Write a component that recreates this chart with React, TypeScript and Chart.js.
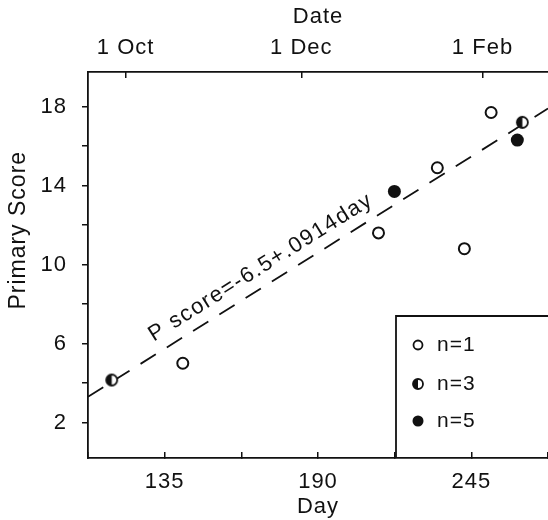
import React, { useEffect, useRef } from 'react';
import { Chart, registerables } from 'chart.js';

Chart.register(...registerables);

// ---- data ----
const openDays = [141.5, 211.7, 232.8, 242.5, 252.1];
const openScores = [5.0, 11.6, 14.9, 10.8, 17.7];
const halfDays = [116.0, 263.3];
const halfScores = [4.15, 17.2];
const filledDays = [217.4, 261.5];
const filledScores = [13.7, 16.3];
const fitDays = [107.5, 272.5];
const fitScores = [3.3, 17.9];

const dayTicks = [107.5, 135, 162.5, 190, 217.5, 245, 272.5];
const dayLabels = [135, 190, 245];
const dateTickDays = [121, 184, 249];
const dateLabels = ['1 Oct', '1 Dec', '1 Feb'];
const scoreTicks = [2, 4, 6, 8, 10, 12, 14, 16, 18];
const scoreLabels = [2, 6, 10, 14, 18];
const legendLabels = ['n=1', 'n=3', 'n=5'];
const equationText = 'P score=-6.5+.0914day';
const equationAnchor = { day: 169.5, score: 9.85 };
const yTitleText = 'Primary Score';

const INK = '#111';
const FONT = '"Liberation Sans", Arial, sans-serif';

function makeHalfPoint(r: number, lw: number): HTMLCanvasElement {
  const size = Math.ceil(2 * r + lw + 2);
  const c = document.createElement('canvas');
  c.width = size;
  c.height = size;
  const g = c.getContext('2d')!;
  const cx = size / 2;
  g.fillStyle = '#fff';
  g.beginPath();
  g.arc(cx, cx, r, 0, Math.PI * 2);
  g.fill();
  g.fillStyle = INK;
  g.beginPath();
  g.arc(cx, cx, r, Math.PI / 2, (3 * Math.PI) / 2);
  g.closePath();
  g.fill();
  g.strokeStyle = INK;
  g.lineWidth = lw;
  g.beginPath();
  g.arc(cx, cx, r, 0, Math.PI * 2);
  g.stroke();
  return c;
}

const toPts = (xs: number[], ys: number[]) => xs.map((x, i) => ({ x, y: ys[i] }));

const zeroPad = (s: any) => {
  s.paddingLeft = 0;
  s.paddingRight = 0;
  s.paddingTop = 0;
  s.paddingBottom = 0;
};

export default function App() {
  const ref = useRef<HTMLCanvasElement | null>(null);

  useEffect(() => {
    if (!ref.current) return;
    const halfImg = makeHalfPoint(5.5, 1.8);
    const halfImgSmall = makeHalfPoint(5, 1.8);

    const annotPlugin = {
      id: 'annot',
      beforeDraw(chart: any) {
        chart.ctx.letterSpacing = '1px';
      },
      afterDraw(chart: any) {
        const { ctx, chartArea } = chart;
        // y axis title, rotated
        ctx.save();
        ctx.letterSpacing = '1px';
        ctx.translate(19, chartArea.top + (chartArea.bottom - chartArea.top) * 0.41);
        ctx.rotate(-Math.PI / 2);
        ctx.font = `23px ${FONT}`;
        ctx.fillStyle = INK;
        ctx.textAlign = 'center';
        ctx.textBaseline = 'middle';
        ctx.fillText(yTitleText, 0, 0);
        ctx.restore();
      },
      afterDatasetsDraw(chart: any) {
        const { ctx, chartArea, scales } = chart;
        const x = scales.x;
        const y = scales.y;
        // equation text along the fitted line
        const x1 = x.getPixelForValue(fitDays[0]);
        const y1 = y.getPixelForValue(fitScores[0]);
        const x2 = x.getPixelForValue(fitDays[1]);
        const y2 = y.getPixelForValue(fitScores[1]);
        const angle = Math.atan2(y2 - y1, x2 - x1);
        ctx.save();
        ctx.letterSpacing = '1.5px';
        ctx.translate(x.getPixelForValue(equationAnchor.day), y.getPixelForValue(equationAnchor.score));
        ctx.rotate(angle);
        ctx.font = `22px ${FONT}`;
        ctx.fillStyle = INK;
        ctx.textAlign = 'center';
        ctx.textBaseline = 'middle';
        ctx.fillText(equationText, 0, 0);
        ctx.restore();

        // legend box
        const bx = chartArea.right - 152;
        const by = chartArea.bottom - 142;
        ctx.save();
        ctx.strokeStyle = INK;
        ctx.lineWidth = 1.8;
        ctx.beginPath();
        ctx.moveTo(bx, chartArea.bottom);
        ctx.lineTo(bx, by);
        ctx.lineTo(chartArea.right, by);
        ctx.stroke();
        const rows = [29, 68, 105];
        ctx.font = `21px ${FONT}`;
        ctx.letterSpacing = '1px';
        ctx.fillStyle = INK;
        ctx.textAlign = 'left';
        ctx.textBaseline = 'middle';
        rows.forEach((dy, i) => {
          const mx = bx + 22;
          const my = by + dy;
          if (i === 0) {
            ctx.beginPath();
            ctx.arc(mx, my, 4.5, 0, Math.PI * 2);
            ctx.fillStyle = '#fff';
            ctx.fill();
            ctx.lineWidth = 1.8;
            ctx.stroke();
          } else if (i === 1) {
            ctx.drawImage(halfImgSmall, mx - halfImgSmall.width / 2, my - halfImgSmall.height / 2);
          } else {
            ctx.beginPath();
            ctx.arc(mx, my, 5.5, 0, Math.PI * 2);
            ctx.fillStyle = INK;
            ctx.fill();
          }
          ctx.fillStyle = INK;
          ctx.fillText(legendLabels[i], bx + 41, my);
        });
        ctx.restore();
      },
    };

    const tickFont = { family: FONT, size: 22 };
    const titleFont = { family: FONT, size: 22 };

    const chart = new Chart(ref.current, {
      type: 'scatter',
      data: {
        datasets: [
          {
            label: 'n=1',
            data: toPts(openDays, openScores),
            pointStyle: 'circle',
            pointRadius: 5.5,
            pointBorderWidth: 2,
            pointBackgroundColor: '#fff',
            pointBorderColor: INK,
          },
          {
            label: 'n=3',
            data: toPts(halfDays, halfScores),
            pointStyle: halfImg as any,
            pointRadius: 5.5,
          },
          {
            label: 'n=5',
            data: toPts(filledDays, filledScores),
            pointStyle: 'circle',
            pointRadius: 6.5,
            pointBorderWidth: 0,
            pointBackgroundColor: INK,
            pointBorderColor: INK,
          },
          {
            type: 'line' as any,
            label: 'fit',
            data: toPts(fitDays, fitScores),
            showLine: true,
            borderColor: INK,
            borderWidth: 1.8,
            borderDash: [18, 13],
            pointRadius: 0,
            fill: false,
          } as any,
        ],
      },
      options: {
        responsive: false,
        animation: false,
        events: [],
        layout: { padding: 0, autoPadding: false },
        plugins: {
          legend: { display: false },
          tooltip: { enabled: false },
        },
        scales: {
          x: {
            type: 'linear',
            position: 'bottom',
            min: fitDays[0],
            max: fitDays[1],
            afterBuildTicks: (s: any) => {
              s.ticks = dayTicks.map((v) => ({ value: v }));
            },
            afterFit: (s: any) => {
              s.height = 62;
              zeroPad(s);
            },
            ticks: {
              autoSkip: false,
              maxRotation: 0,
              padding: 17,
              color: INK,
              font: tickFont,
              callback: (v: any) => (dayLabels.includes(Number(v)) ? String(v) : ''),
            },
            grid: { drawOnChartArea: false, drawTicks: true, tickLength: -6, color: INK, lineWidth: 1.5 },
            border: { display: true, color: INK, width: 1.8 },
            title: { display: true, text: 'Day', color: INK, font: titleFont, padding: { top: 0, bottom: 0 } },
          },
          xTop: {
            type: 'linear',
            position: 'top',
            min: fitDays[0],
            max: fitDays[1],
            afterBuildTicks: (s: any) => {
              s.ticks = dateTickDays.map((v) => ({ value: v }));
            },
            afterFit: (s: any) => {
              s.height = 72;
              zeroPad(s);
            },
            ticks: {
              autoSkip: false,
              maxRotation: 0,
              padding: 17,
              color: INK,
              font: tickFont,
              callback: (_v: any, i: number) => dateLabels[i],
            },
            grid: { drawOnChartArea: false, drawTicks: true, tickLength: -6, color: INK, lineWidth: 1.5 },
            border: { display: true, color: INK, width: 1.8 },
            title: { display: true, text: 'Date', color: INK, font: titleFont, padding: { top: 4, bottom: 0 } },
          },
          y: {
            type: 'linear',
            position: 'left',
            min: 0.2,
            max: 19.75,
            afterBuildTicks: (s: any) => {
              s.ticks = scoreTicks.map((v) => ({ value: v }));
            },
            afterFit: (s: any) => {
              s.width = 88;
              zeroPad(s);
            },
            ticks: {
              autoSkip: false,
              padding: 15,
              color: INK,
              font: tickFont,
              callback: (v: any) => (scoreLabels.includes(Number(v)) ? String(v) : ''),
            },
            grid: { drawOnChartArea: false, drawTicks: true, tickLength: 6, color: INK, lineWidth: 1.5 },
            border: { display: true, color: INK, width: 1.8 },
            title: { display: false },
          },
        },
      } as any,
      plugins: [annotPlugin],
    });

    return () => chart.destroy();
  }, []);

  return (
    <div style={{ position: 'absolute', left: 0, top: 0, width: 548, height: 520, background: '#fff' }}>
      <canvas ref={ref} width={548} height={520} style={{ display: 'block' }} />
    </div>
  );
}
